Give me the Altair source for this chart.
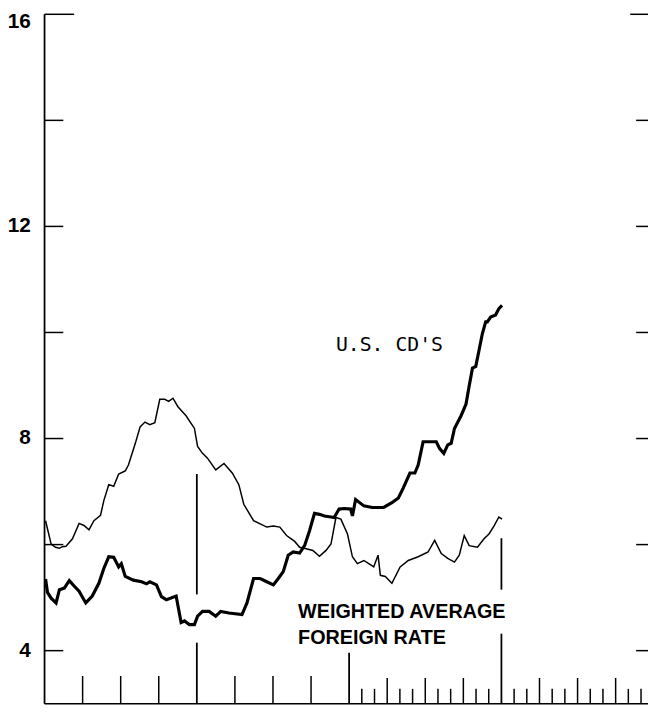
import altair as alt
import pandas as pd

# Weighted average foreign rate (thin line): months from start, percent
foreign_month = [0.08, 0.52, 0.86, 1.17, 1.40, 1.69, 2.20, 2.72, 3.11, 3.50, 3.89, 4.41, 4.67,
                 5.06, 5.45, 5.84, 6.36, 6.61, 7.14, 7.53, 7.91, 8.30, 8.69, 9.08, 9.47, 9.78,
                 10.12, 10.51, 11.15, 11.81, 12.06, 12.45, 12.84, 13.49, 14.14, 14.79, 15.31,
                 15.70, 16.47, 16.99, 17.51, 18.03, 18.54, 19.07, 19.71, 20.10, 20.62, 21.14,
                 21.66, 22.18, 22.57, 22.96, 23.35, 23.87, 24.26, 24.65, 25.16, 25.55, 25.94,
                 26.28, 26.46, 26.85, 27.37, 28.02, 28.66, 29.44, 30.22, 30.74, 31.26, 31.77,
                 32.30, 32.68, 33.07, 33.46, 34.11, 34.63, 35.02, 35.41, 35.80, 36.05]
foreign_rate = [6.45, 6.01, 5.95, 5.93, 5.96, 5.97, 6.11, 6.40, 6.36, 6.28, 6.45, 6.55, 6.83,
                7.13, 7.10, 7.33, 7.39, 7.50, 7.90, 8.22, 8.31, 8.26, 8.30, 8.74, 8.74, 8.70,
                8.76, 8.60, 8.43, 8.19, 7.85, 7.72, 7.63, 7.41, 7.53, 7.35, 7.13,
                6.76, 6.45, 6.39, 6.33, 6.35, 6.33, 6.17, 6.06, 5.95, 5.92, 5.89,
                5.78, 5.89, 6.01, 6.51, 6.48, 6.20, 5.77, 5.64, 5.70, 5.64, 5.58,
                5.80, 5.42, 5.40, 5.27, 5.58, 5.70, 5.77, 5.86, 6.08, 5.83, 5.74,
                5.67, 5.80, 6.17, 5.98, 5.95, 6.11, 6.20, 6.35, 6.52, 6.48]

# U.S. CD's (thick line)
cd_month = [0.08, 0.23, 0.52, 0.91, 1.17, 1.56, 1.95, 2.33, 2.72, 3.25, 3.76, 4.28, 4.67, 5.06,
            5.45, 5.84, 6.05, 6.36, 7.00, 7.65, 8.04, 8.30, 8.82, 9.21, 9.60, 10.37, 10.76,
            11.03, 11.42, 11.81, 12.06, 12.45, 12.97, 13.49, 13.88, 14.53, 15.56, 15.95,
            16.47, 16.99, 17.51, 18.03, 18.42, 18.81, 19.20, 19.59, 20.10, 20.49, 20.88,
            21.27, 21.66, 22.05, 22.57, 22.82, 23.21, 23.60, 24.12, 24.26, 24.51, 25.16,
            25.81, 26.72, 27.37, 27.88, 28.27, 28.79, 29.18, 29.44, 29.83, 30.87, 31.13,
            31.46, 31.77, 32.04, 32.30, 32.82, 33.21, 33.46, 33.72, 33.98, 34.24, 34.50,
            34.76, 34.89, 35.15, 35.54, 35.80, 36.05]
cd_rate = [5.35, 5.10, 4.99, 4.90, 5.15, 5.18, 5.32, 5.22, 5.12, 4.90, 5.03, 5.27, 5.55, 5.77,
           5.76, 5.58, 5.64, 5.40, 5.33, 5.30, 5.26, 5.30, 5.24, 5.02, 4.96, 5.03, 4.53,
           4.56, 4.49, 4.49, 4.65, 4.74, 4.74, 4.65, 4.74, 4.71, 4.68, 4.90,
           5.36, 5.36, 5.30, 5.24, 5.36, 5.49, 5.80, 5.86, 5.84, 5.98, 6.26,
           6.59, 6.57, 6.54, 6.52, 6.51, 6.67, 6.68, 6.67, 6.54, 6.85, 6.73,
           6.70, 6.70, 6.79, 6.88, 7.07, 7.35, 7.35, 7.50, 7.94, 7.94, 7.81,
           7.72, 7.88, 7.91, 8.19, 8.43, 8.65, 8.99, 9.33, 9.36, 9.67, 9.98,
           10.20, 10.20, 10.29, 10.33, 10.45, 10.51]

y_labels = [4, 8, 12]
top_label = [16]
left_ticks = [4, 6, 8, 10, 12, 14]
right_ticks = [4, 6, 8, 10, 12, 14]
quarter_ticks = [3, 6, 9, 15, 18, 21]
month_ticks = [25, 26, 28, 29, 31, 32, 34, 35, 37, 38, 40, 41, 43, 44, 46, 47]
month_quarter_ticks = [27, 30, 33, 39, 42, 45]

# year-end marker segments (month, top value, bottom value)
seg_month = [12, 12, 24, 36, 36]
seg_top = [7.33, 4.15, 3.96, 6.12, 4.32]
seg_bottom = [5.06, 3.00, 3.00, 5.15, 3.00]

W, H = 611, 698
FONT = "Liberation Sans"

xs = alt.Scale(domain=[0, 47.55], nice=False, zero=False)
ys = alt.Scale(domain=[3, 16], nice=False, zero=False)

foreign_df = pd.DataFrame({"month": foreign_month, "value": foreign_rate})
cd_df = pd.DataFrame({"month": cd_month, "value": cd_rate})

# axis lines (left and bottom)
left_axis = alt.Chart(pd.DataFrame({"v": [0]})).mark_rule(color="black", strokeWidth=1.8).encode(
    x=alt.value(0), y=alt.value(0), y2=alt.value(H),
)
bottom_axis = alt.Chart(pd.DataFrame({"v": [0]})).mark_rule(color="black", strokeWidth=1.6).encode(
    x=alt.value(0), x2=alt.value(W), y=alt.value(H),
)

foreign_line = alt.Chart(foreign_df).mark_line(color="black", strokeWidth=1.5).encode(
    x=alt.X("month:Q", scale=xs, axis=None),
    y=alt.Y("value:Q", scale=ys, axis=None),
)

cd_line = alt.Chart(cd_df).mark_line(color="black", strokeWidth=3.2).encode(
    x=alt.X("month:Q", scale=xs, axis=None),
    y=alt.Y("value:Q", scale=ys, axis=None),
)

seg_df = pd.DataFrame({"month": seg_month, "top": seg_top, "bottom": seg_bottom})
segments = alt.Chart(seg_df).mark_rule(color="black", strokeWidth=1.8).encode(
    x=alt.X("month:Q", scale=xs, axis=None),
    y=alt.Y("top:Q", scale=ys, axis=None),
    y2="bottom:Q",
)

def bottom_ticks(vals, length, width=1.5):
    return alt.Chart(pd.DataFrame({"month": vals})).mark_rule(color="black", strokeWidth=width).encode(
        x=alt.X("month:Q", scale=xs, axis=None),
        y=alt.value(H),
        y2=alt.value(H - length),
    )

qt = bottom_ticks(quarter_ticks, 28)
mt = bottom_ticks(month_ticks, 15)
mqt = bottom_ticks(month_quarter_ticks, 26)

lt = alt.Chart(pd.DataFrame({"value": left_ticks})).mark_rule(color="black", strokeWidth=1.5).encode(
    y=alt.Y("value:Q", scale=ys, axis=None),
    x=alt.value(0),
    x2=alt.value(19),
)
lt_top = alt.Chart(pd.DataFrame({"value": top_label})).mark_rule(color="black", strokeWidth=1.5).encode(
    y=alt.Y("value:Q", scale=ys, axis=None),
    x=alt.value(0),
    x2=alt.value(30),
)
rt = alt.Chart(pd.DataFrame({"value": right_ticks})).mark_rule(color="black", strokeWidth=1.5).encode(
    y=alt.Y("value:Q", scale=ys, axis=None),
    x=alt.value(599),
    x2=alt.value(W),
)
rt_top = alt.Chart(pd.DataFrame({"value": top_label})).mark_rule(color="black", strokeWidth=1.5).encode(
    y=alt.Y("value:Q", scale=ys, axis=None),
    x=alt.value(593),
    x2=alt.value(W),
)

ylab = alt.Chart(pd.DataFrame({"value": y_labels})).mark_text(
    align="right", baseline="middle", font=FONT, fontSize=21, fontWeight="bold", color="black"
).encode(
    y=alt.Y("value:Q", scale=ys, axis=None),
    x=alt.value(-14),
    text=alt.Text("value:Q"),
)
ylab_top = alt.Chart(pd.DataFrame({"value": top_label})).mark_text(
    align="right", baseline="top", dy=-3, font=FONT, fontSize=21, fontWeight="bold", color="black"
).encode(
    y=alt.Y("value:Q", scale=ys, axis=None),
    x=alt.value(-14),
    text=alt.Text("value:Q"),
)

label_df = pd.DataFrame({
    "month": [22.96],
    "value": [9.66],
    "text": ["U.S.  CD'S"],
})
cd_label = alt.Chart(label_df).mark_text(
    align="left", baseline="alphabetic", font="DejaVu Sans Mono", fontSize=20, color="black"
).encode(
    x=alt.X("month:Q", scale=xs, axis=None),
    y=alt.Y("value:Q", scale=ys, axis=None),
    text="text:N",
)

flabel_df = pd.DataFrame({
    "month": [19.98, 19.98],
    "value": [4.61, 4.13],
    "text": ["WEIGHTED AVERAGE", "FOREIGN RATE"],
})
f_label = alt.Chart(flabel_df).mark_text(
    align="left", baseline="alphabetic", font=FONT, fontSize=20, fontWeight="bold", color="black"
).encode(
    x=alt.X("month:Q", scale=xs, axis=None),
    y=alt.Y("value:Q", scale=ys, axis=None),
    text="text:N",
)

chart = alt.layer(
    left_axis, bottom_axis, segments, qt, mt, mqt, lt, lt_top, rt, rt_top,
    foreign_line, cd_line, ylab, ylab_top, cd_label, f_label,
).properties(
    width=W,
    height=H,
    autosize=alt.AutoSizeParams(type="none"),
    padding={"left": 37, "top": 2, "right": 0, "bottom": 0},
    background="white",
).configure_view(stroke="transparent")

chart.save("out.html", embed_options={"renderer": "svg", "actions": False})
